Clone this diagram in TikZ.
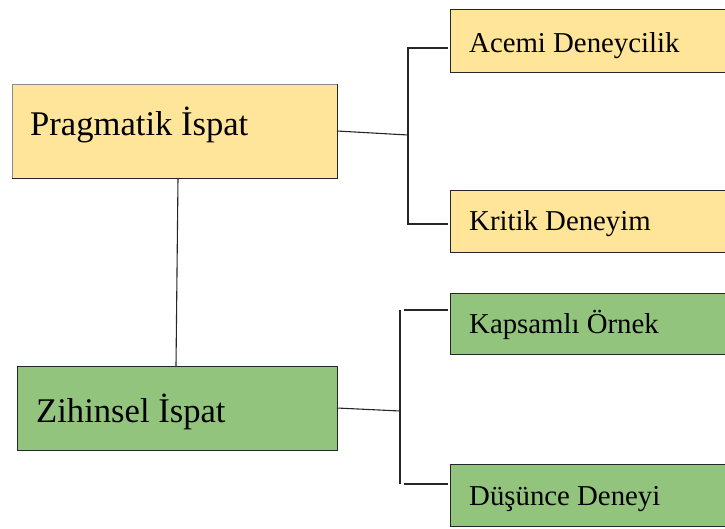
\documentclass[tikz,border=0pt]{standalone}
\usepackage{fontspec}
\newfontfamily\labelfont{Liberation Serif}
\definecolor{boxyellow}{HTML}{FFE599}
\definecolor{boxgreen}{HTML}{93C47D}
\definecolor{edge}{HTML}{262626}
\begin{document}
\begin{tikzpicture}[x=1pt, y=-1pt,
  panel/.style={draw=edge, line width=1pt, anchor=north west, inner sep=0pt, outer sep=0pt},
  yellowpanel/.style={panel, fill=boxyellow},
  greenpanel/.style={panel, fill=boxgreen},
  bigtext/.style={anchor=base west, inner sep=0pt, font=\labelfont\fontsize{34.6}{40}\selectfont, text=black},
  smalltext/.style={anchor=base west, inner sep=0pt, font=\labelfont\fontsize{28.8}{34}\selectfont, text=black},
  link/.style={draw=edge, line width=1.1pt}
]
\useasboundingbox (0,0) rectangle (725,528);
\clip (0,0) rectangle (725,528);

% main categories
\node[yellowpanel, draw=black!45, minimum width=325pt, minimum height=94pt] (prag) at (12,84) {};
\node[greenpanel, minimum width=320pt, minimum height=84pt] (zih) at (17,366) {};
\node[bigtext] (pragT) at (30,135) {Pragmatik İspat};
\node[bigtext] (zihT) at (36,422) {Zihinsel İspat};

% sub-categories (run off the right edge)
\node[yellowpanel, minimum width=290pt, minimum height=63pt] (acemi) at (450,9) {};
\node[yellowpanel, minimum width=290pt, minimum height=62pt] (kritik) at (450,190) {};
\node[greenpanel, minimum width=290pt, minimum height=61pt] (kaps) at (450,293) {};
\node[greenpanel, minimum width=290pt, minimum height=62pt] (dus) at (450,464) {};
\node[smalltext] (acemiT) at (469,52) {Acemi Deneycilik};
\node[smalltext] (kritikT) at (469,230) {Kritik Deneyim};
\node[smalltext] (kapsT) at (469,333) {Kapsamlı Örnek};
\node[smalltext] (dusT) at (469,505) {Düşünce Deneyi};

% shaded right/bottom edge of the first panel
\draw[edge, line width=1pt] (prag.north east) -- (prag.south east) -- (prag.south west);

% link between the two main categories
\draw[link] ([xshift=3.5pt]prag.south) -- ([xshift=-1pt]zih.north);

% upper bracket
\coordinate (ujoin) at (408,135);
\coordinate (utop) at (408,48);
\coordinate (ubot) at (408,224);
\draw[link] (prag.east) -- (ujoin);
\draw[link] ([xshift=-2pt]utop -| acemi.west) -- (utop) -- (ubot) -- ([xshift=-2pt]ubot -| kritik.west);

% lower bracket
\coordinate (ljoin) at (400,411);
\coordinate (ltop) at (400,310);
\coordinate (lbot) at (400,484);
\draw[link] (zih.east) -- (ljoin);
\draw[link] (ltop) -- (lbot);
\draw[link] ([xshift=4pt]ltop) -- ([xshift=-2pt]ltop -| kaps.west);
\draw[link] ([xshift=4pt]lbot) -- ([xshift=-2pt]lbot -| dus.west);
\end{tikzpicture}
\end{document}
